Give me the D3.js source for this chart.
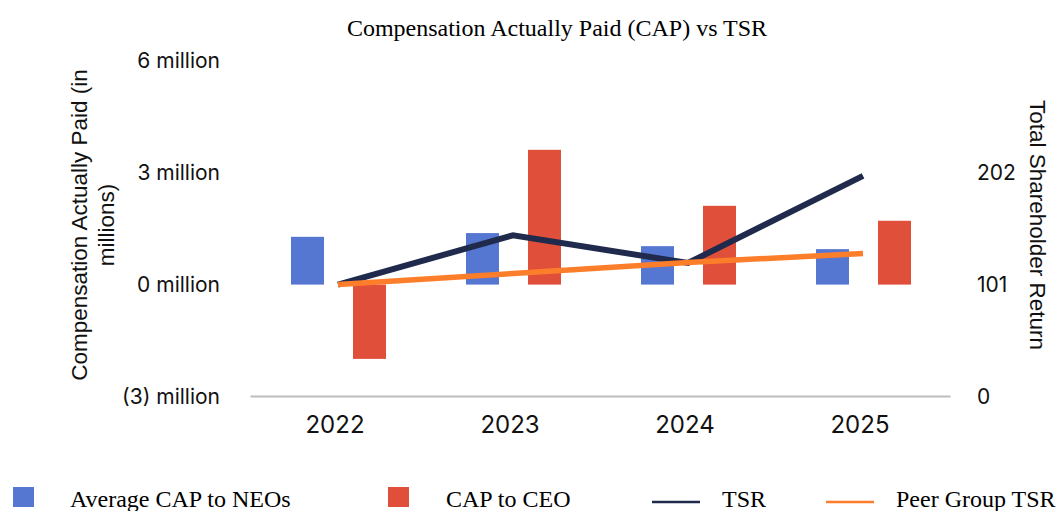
<!DOCTYPE html>
<html lang="en">
<head>
<meta charset="UTF-8" />
<title>CAP vs TSR</title>
<script src="https://cdn.jsdelivr.net/npm/d3@7"></script>
<style>
  body { margin: 0; background: #fff; }
  svg { display: block; }
</style>
</head>
<body>
<script>
// chart data
var years = ["2022", "2023", "2024", "2025"];
var neoCap = [1.28, 1.38, 1.03, 0.95];      // average CAP to NEOs, millions
var ceoCap = [-1.99, 3.61, 2.11, 1.71];     // CAP to CEO, millions
var tsr = [101, 145.5, 120.5, 199];
var peerTsr = [101, 111, 121, 129];
var leftTicks = [-3, 0, 3, 6];
var leftTickLabels = ["(3) million", "0 million", "3 million", "6 million"];
var rightTicks = [0, 101, 202];

var width = 1061, height = 511;
var blue = "#5677d1", red = "#df4f39", navy = "#1f2a4d", orange = "#fd7e2a";

var svg = d3.select("body").append("svg")
  .attr("width", width)
  .attr("height", height);

var x0 = d3.scaleBand().domain(years).range([250.5, 950.5]).padding(0);
var x1 = d3.scaleBand().domain(["neo", "ceo"])
  .range([x0.bandwidth() / 2 - 47, x0.bandwidth() / 2 + 48])
  .paddingInner(0.468);
var yL = d3.scaleLinear().domain([-3, 6]).range([396.6, 60.6]);
var yR = d3.scaleLinear().domain([0, 303]).range([396.6, 60.6]);

// title
svg.append("text")
  .attr("x", 557).attr("y", 36)
  .attr("text-anchor", "middle")
  .attr("font-family", "Liberation Serif, Times New Roman, serif")
  .attr("font-size", 24)
  .attr("fill", "#000")
  .text("Compensation Actually Paid (CAP) vs TSR");

// left axis labels
svg.append("g").selectAll("text")
  .data(leftTicks)
  .enter().append("text")
  .attr("x", 220)
  .attr("y", function(d) { return yL(d); })
  .attr("dy", "0.35em")
  .attr("text-anchor", "end")
  .attr("font-family", "Inter, sans-serif")
  .attr("font-size", 21)
  .attr("fill", "#111")
  .text(function(d, i) { return leftTickLabels[i]; });

// right axis labels
svg.append("g").selectAll("text")
  .data(rightTicks)
  .enter().append("text")
  .attr("x", 977)
  .attr("y", function(d) { return yR(d); })
  .attr("dy", "0.35em")
  .attr("font-family", "Inter, sans-serif")
  .attr("font-size", 21)
  .attr("fill", "#111")
  .text(function(d) { return d; });

// axis titles
var lt = svg.append("text")
  .attr("transform", "translate(87,225) rotate(-90)")
  .attr("text-anchor", "middle")
  .attr("font-family", "Liberation Sans, Arial, sans-serif")
  .attr("font-size", 22.5)
  .attr("fill", "#111");
lt.append("tspan").attr("x", 0).attr("y", 0).text("Compensation Actually Paid (in");
lt.append("tspan").attr("x", 0).attr("y", 27).text("millions)");

svg.append("text")
  .attr("transform", "translate(1030,225) rotate(90)")
  .attr("text-anchor", "middle")
  .attr("font-family", "Liberation Sans, Arial, sans-serif")
  .attr("font-size", 22.5)
  .attr("fill", "#111")
  .text("Total Shareholder Return");

// baseline
svg.append("line")
  .attr("x1", x0.range()[0]).attr("x2", x0.range()[1])
  .attr("y1", yL(-3)).attr("y2", yL(-3))
  .attr("stroke", "#bdbdbd").attr("stroke-width", 2);

// x axis labels
svg.append("g").selectAll("text")
  .data(years)
  .enter().append("text")
  .attr("x", function(d) { return x0(d) + x0.bandwidth() / 2 - 3; })
  .attr("y", 433)
  .attr("text-anchor", "middle")
  .attr("font-family", "Inter, sans-serif")
  .attr("font-size", 24)
  .attr("fill", "#111")
  .text(function(d) { return d; });

// bars
var groups = svg.append("g").selectAll("g")
  .data(years)
  .enter().append("g")
  .attr("transform", function(d) { return "translate(" + x0(d) + ",0)"; });

groups.append("rect")
  .attr("x", x1("neo"))
  .attr("width", x1.bandwidth())
  .attr("y", function(d, i) { return yL(Math.max(0, neoCap[i])); })
  .attr("height", function(d, i) { return Math.abs(yL(neoCap[i]) - yL(0)); })
  .attr("fill", blue);

groups.append("rect")
  .attr("x", x1("ceo"))
  .attr("width", x1.bandwidth())
  .attr("y", function(d, i) { return yL(Math.max(0, ceoCap[i])); })
  .attr("height", function(d, i) { return Math.abs(yL(ceoCap[i]) - yL(0)); })
  .attr("fill", red);

// lines
var line = d3.line()
  .x(function(d, i) { return x0(years[i]) + x0.bandwidth() / 2; })
  .y(function(d) { return yR(d); });

svg.append("path")
  .datum(tsr)
  .attr("d", line)
  .attr("fill", "none")
  .attr("stroke", navy)
  .attr("stroke-width", 6);

svg.append("path")
  .datum(peerTsr)
  .attr("d", line)
  .attr("fill", "none")
  .attr("stroke", orange)
  .attr("stroke-width", 5.5);

// legend
var legend = svg.append("g")
  .attr("font-family", "Liberation Serif, Times New Roman, serif")
  .attr("font-size", 24)
  .attr("fill", "#000");

legend.append("rect").attr("x", 13).attr("y", 487).attr("width", 21).attr("height", 20).attr("fill", blue);
legend.append("text").attr("x", 70).attr("y", 507).text("Average CAP to NEOs");
legend.append("rect").attr("x", 388).attr("y", 487).attr("width", 21).attr("height", 20).attr("fill", red);
legend.append("text").attr("x", 446).attr("y", 507).text("CAP to CEO");
legend.append("line").attr("x1", 652).attr("x2", 700).attr("y1", 502).attr("y2", 502)
  .attr("stroke", navy).attr("stroke-width", 2.5);
legend.append("text").attr("x", 722).attr("y", 507).text("TSR");
legend.append("line").attr("x1", 826).attr("x2", 874).attr("y1", 502).attr("y2", 502)
  .attr("stroke", orange).attr("stroke-width", 2.5);
legend.append("text").attr("x", 896).attr("y", 507).text("Peer Group TSR");
</script>
</body>
</html>
